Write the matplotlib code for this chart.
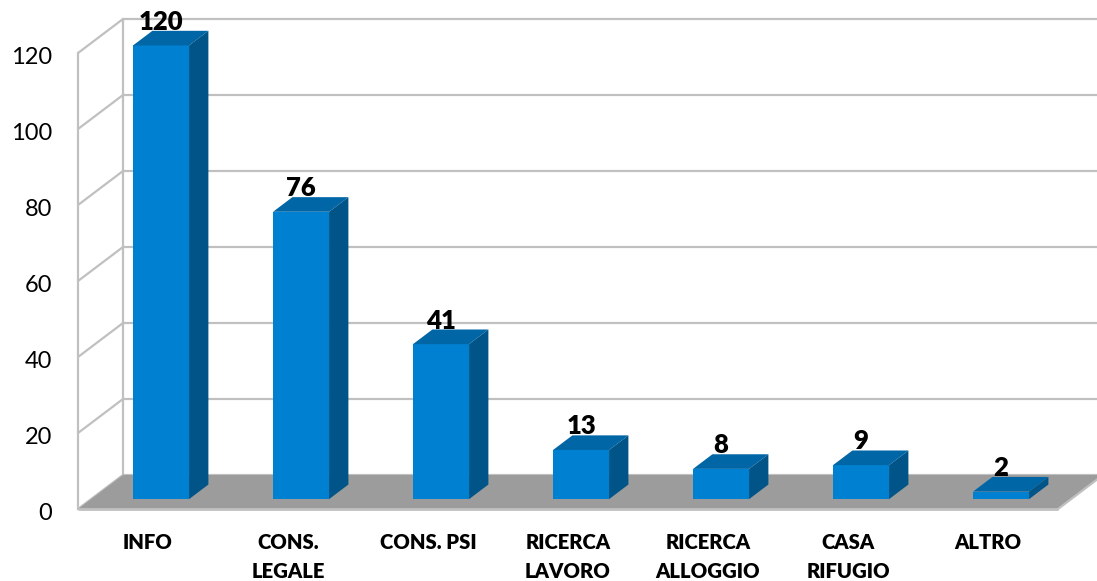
import matplotlib
matplotlib.use("Agg")
import matplotlib.pyplot as plt
from matplotlib.patches import Polygon
from matplotlib.transforms import ScaledTranslation

categories = ["INFO", "CONS.\nLEGALE", "CONS. PSI", "RICERCA\nLAVORO",
              "RICERCA\nALLOGGIO", "CASA\nRIFUGIO", "ALTRO"]
values = [120, 76, 41, 13, 8, 9, 2]
y_ticks = [0, 20, 40, 60, 80, 100, 120]

W, H = 1097, 581
X0, Y0 = 78, 509          # front-left floor corner, pixels from top-left
PX_CAT, PX_VAL = 140.0, 3.8
DEPTH_X, DEPTH_Y = 45 / PX_CAT, 34 / PX_VAL
BAR_W = 0.4
BAR_SCALE = 0.995         # bars sit slightly deeper in the 3D box than the front plane
D0, D1 = 0.29, 0.72       # bar front / back as fractions of the depth

FRONT, TOP, SIDE = "#0080D0", "#0066A6", "#005488"
GRID, FLOOR = "#C0C0C0", "#9C9C9C"

plt.rcParams["font.family"] = ["Lato", "DejaVu Sans"]
fig = plt.figure(figsize=(W / 100, H / 100), dpi=100)
ax = fig.add_axes([X0 / W, (H - Y0) / H, (W - X0) / W, Y0 / H])
ax.set_xlim(0, (W - X0) / PX_CAT)
ax.set_ylim(0, Y0 / PX_VAL)
for s in ax.spines.values():
    s.set_visible(False)

n = len(values)
ymax = max(y_ticks)
for v in y_ticks:
    ax.plot([0, DEPTH_X], [v, v + DEPTH_Y], color=GRID, lw=1.6, clip_on=False, zorder=1, solid_capstyle="butt")
    ax.plot([DEPTH_X, n + DEPTH_X], [v + DEPTH_Y] * 2, color=GRID, lw=1.6, clip_on=False, zorder=1, solid_capstyle="butt")
ax.plot([0, 0], [0, ymax], color=GRID, lw=1.6, clip_on=False, zorder=1)
ax.plot([DEPTH_X, DEPTH_X], [DEPTH_Y, ymax + DEPTH_Y], color=GRID, lw=1.6, clip_on=False, zorder=1)

ax.add_patch(Polygon([(0, 0), (n, 0), (n + DEPTH_X, DEPTH_Y), (DEPTH_X, DEPTH_Y)],
                     closed=True, fc=FLOOR, ec="none", clip_on=False, zorder=2))
ax.plot([0, n], [0, 0], color=GRID, lw=2, clip_on=False, zorder=2.5, solid_capstyle="butt")
ax.plot([n, n + DEPTH_X], [0, DEPTH_Y], color=GRID, lw=1.6, clip_on=False, zorder=2.5)

for i, v in enumerate(values):
    xl = i + 0.5 - BAR_W / 2 + D0 * DEPTH_X
    xr = xl + BAR_W
    b = D0 * DEPTH_Y
    t = b + v * BAR_SCALE
    dx = (D1 - D0) * DEPTH_X
    dy = (D1 - D0) * DEPTH_Y
    ax.add_patch(Polygon([(xl, b), (xr, b), (xr, t), (xl, t)], fc=FRONT, ec="none", clip_on=False, zorder=3))
    ax.add_patch(Polygon([(xl, t), (xr, t), (xr + dx, t + dy), (xl + dx, t + dy)], fc=TOP, ec="none", clip_on=False, zorder=3))
    ax.add_patch(Polygon([(xr, b), (xr + dx, b + dy), (xr + dx, t + dy), (xr, t)], fc=SIDE, ec="none", clip_on=False, zorder=3))
    ax.annotate(str(v), xy=((xl + xr) / 2, t), xytext=(0, 17), textcoords="offset points",
                ha="center", va="center", fontsize=18.5, fontweight="heavy", color="black", zorder=5)

ax.set_yticks(y_ticks)
ax.set_yticklabels([str(v) for v in y_ticks], fontsize=17, color="black")
ax.set_xticks([i + 0.5 for i in range(n)])
ax.set_xticklabels(categories, fontsize=14.6, fontweight="heavy", color="black", linespacing=1.66)
ax.tick_params(axis="y", length=0, pad=18.5)
ax.tick_params(axis="x", length=0, pad=17)
shift = ScaledTranslation(0, -2 / 100, fig.dpi_scale_trans)
for lab in ax.get_yticklabels():
    lab.set_transform(lab.get_transform() + shift)
ax.patch.set_visible(False)

fig.savefig("out.png", dpi=100, facecolor="white")
